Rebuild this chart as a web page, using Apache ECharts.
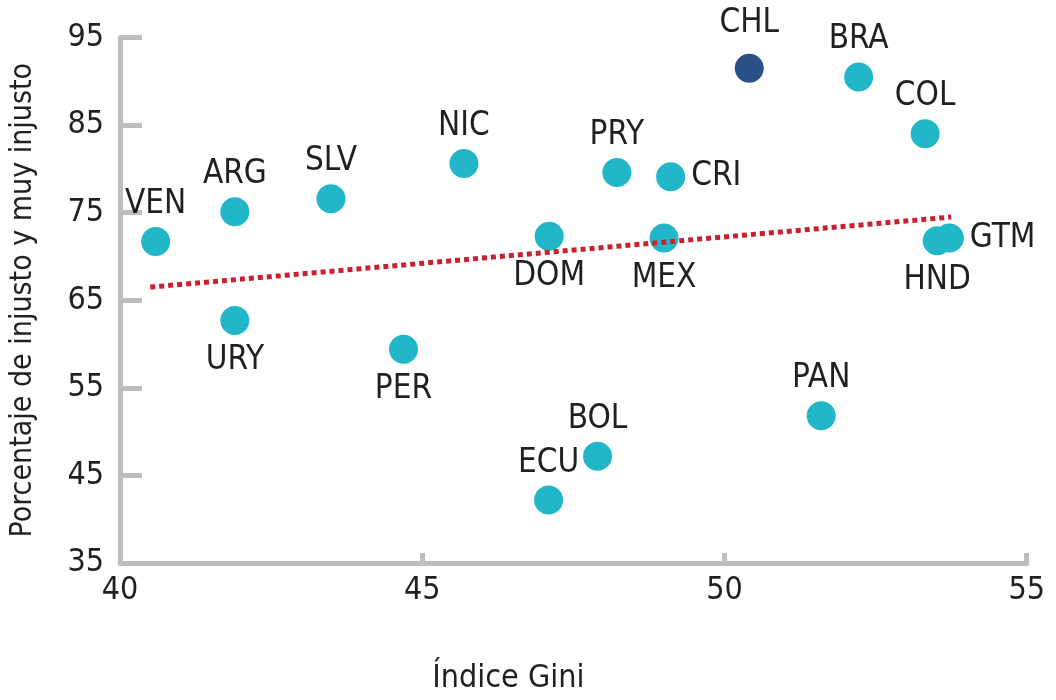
<!DOCTYPE html>
<html lang="es">
<head>
    <meta charset="UTF-8">
    <title>Gini vs injusticia</title>
    <style>
        html, body { margin: 0; padding: 0; background: #fff; }
        #chart { width: 1056px; height: 700px; }
    </style>
</head>
<body>
    <div id="chart"></div>
    <script src="https://cdn.jsdelivr.net/npm/echarts@6/dist/echarts.min.js"></script>
    <script>
        // datos
        var paises = ['VEN', 'ARG', 'URY', 'SLV', 'PER', 'NIC', 'DOM', 'ECU', 'BOL', 'PRY', 'CRI', 'MEX', 'PAN', 'BRA', 'COL', 'HND', 'GTM', 'CHL'];
        var gini = [40.59, 41.90, 41.90, 43.49, 44.69, 45.69, 47.10, 47.09, 47.90, 48.22, 49.11, 49.00, 51.60, 52.22, 53.32, 53.52, 53.72, 50.41];
        var injusto = [71.7, 75.1, 62.7, 76.6, 59.4, 80.6, 72.3, 42.2, 47.2, 79.6, 79.1, 72.1, 51.8, 90.5, 84.0, 71.8, 72.1, 91.5];
        var posEtiqueta = ['top', 'top', 'bottom', 'top', 'bottom', 'top', 'bottom', 'top', 'top', 'top', 'right', 'bottom', 'top', 'top', 'top', 'bottom', 'right', 'top'];
        var tendenciaX = [40.5, 53.75];
        var tendenciaY = [66.5, 74.5];

        var fuente = "'DejaVu Sans Condensed', 'Liberation Sans Narrow', sans-serif";
        var gris = '#bcbec0';
        var texto = '#231f20';

        var puntos = paises.map(function (p, i) {
            var esChile = p === 'CHL';
            return {
                name: p,
                value: [gini[i], injusto[i]],
                itemStyle: { color: esChile ? '#2b5087' : '#22b6c9', opacity: 1 },
                label: {
                    position: posEtiqueta[i],
                    distance: esChile ? 14 : (posEtiqueta[i] === 'bottom' ? 9 : 6)
                }
            };
        });

        var myChart = echarts.init(document.getElementById('chart'));
        var option = {
            animation: false,
            grid: { left: 119.5, right: 29.3, top: 37.5, bottom: 137 },
            xAxis: {
                type: 'value',
                min: 40, max: 55, interval: 5,
                name: 'Índice Gini',
                nameLocation: 'middle',
                nameGap: 100,
                nameTextStyle: { fontFamily: fuente, fontSize: 32, color: texto, padding: [0, 130, 0, 0] },
                axisLine: { lineStyle: { color: gris, width: 5 } },
                axisTick: { show: true, inside: true, length: 10, lineStyle: { color: gris, width: 5 } },
                axisLabel: { fontFamily: fuente, fontSize: 32, color: texto, margin: 12 },
                splitLine: { show: false }
            },
            yAxis: {
                type: 'value',
                min: 35, max: 95, interval: 10,
                name: 'Porcentaje de injusto y muy injusto',
                nameLocation: 'middle',
                nameGap: 82,
                nameTextStyle: { fontFamily: fuente, fontSize: 30, color: texto },
                axisLine: { show: true, lineStyle: { color: gris, width: 5 } },
                axisTick: { show: true, inside: true, length: 22, lineStyle: { color: gris, width: 5 } },
                axisLabel: { fontFamily: fuente, fontSize: 32, color: texto, margin: 16 },
                splitLine: { show: false }
            },
            series: [
                {
                    type: 'scatter',
                    symbolSize: 29,
                    data: puntos,
                    label: {
                        show: true,
                        formatter: '{b}',
                        fontFamily: fuente,
                        fontSize: 33,
                        color: texto
                    },
                    emphasis: { disabled: true }
                },
                {
                    type: 'line',
                    data: [[tendenciaX[0], tendenciaY[0]], [tendenciaX[1], tendenciaY[1]]],
                    symbol: 'none',
                    silent: true,
                    lineStyle: { color: '#c8202f', width: 5, type: [5, 4] }
                }
            ]
        };
        myChart.setOption(option);
    </script>
</body>
</html>
